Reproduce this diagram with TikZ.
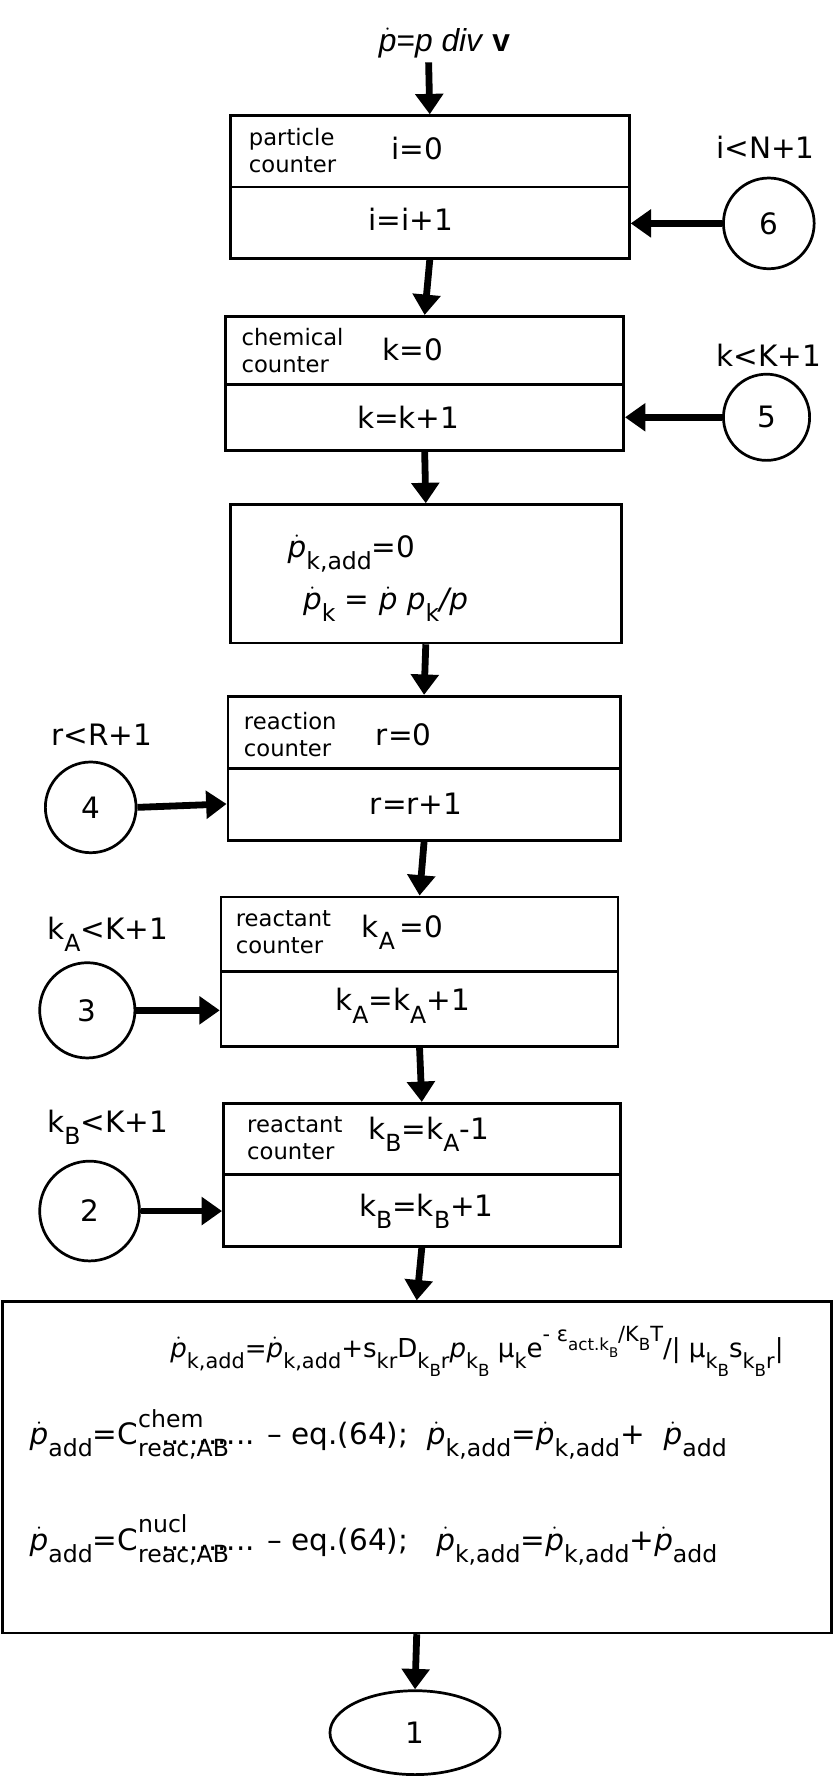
\documentclass[tikz,border=0pt]{standalone}
\usepackage{fontspec}
\usepackage{amsmath}
\setmainfont{DejaVu Sans}
\newfontfamily\arialf{Liberation Sans}
\usetikzlibrary{arrows.meta,shapes.geometric}
\newcommand{\pd}{$\dot{\text{\itshape p}}$}
\newcommand{\sbs}[1]{\raisebox{-0.75ex}{\scalebox{0.8}{#1}}}
\newcommand{\sps}[1]{\raisebox{1.1ex}{\scalebox{0.8}{#1}}}
\begin{document}
\begin{tikzpicture}[x=1pt,y=-1pt,
  boxn/.style={draw,line width=2.4pt,inner sep=0pt},
  conn/.style={line width=6pt,-{Triangle[length=18pt,width=24pt]}},
  circ/.style={draw,circle,line width=2.4pt,minimum size=80pt,inner sep=0pt,font=\fontsize{26}{28}\selectfont},
  lab/.style={font=\fontsize{26}{28}\selectfont,inner sep=0pt},
  slab/.style={font=\fontsize{20}{24}\selectfont,align=left,inner sep=0pt}]
\useasboundingbox (0,0) rectangle (735,1568);
% top label
\node[inner sep=0pt,font=\arialf\fontsize{28}{30}\selectfont] (top) at (392,38) {\pd=\textit{p div} \textbf{v}};
\coordinate (topc) at (378,55);
% box1
\node[boxn,minimum width=352pt,minimum height=126pt] (b1) at (379,165) {};
\draw[line width=2.4pt] (203,165) -- (555,165);
\node[slab] (l1) at (258,133) {particle\\counter};
\node[lab] (t1a) at (368,131) {i=0};
\node[lab] (t1b) at (362,193) {i=i+1};
\node[circ] (c6) at (678,197) {6};
\node[lab] (n6) at (675,130) {i<N+1};
% box2
\node[boxn,minimum width=351pt,minimum height=118pt] (b2) at (374.5,338) {};
\draw[line width=2.4pt] (199,339) -- (550,339);
\node[slab] (l2) at (258,309) {chemical\\counter};
\node[lab] (t2a) at (364,308) {k=0};
\node[lab] (t2b) at (360,368) {k=k+1};
\node[circ,minimum size=76pt] (c5) at (676,368) {5};
\node[lab] (n5) at (678,313) {k<K+1};
% box3
\node[boxn,minimum width=345pt,minimum height=122pt] (b3) at (375.5,506) {};
\node[lab] (t3a) at (310,488) {\pd\sbs{k,add}=0};
\node[lab] (t3b) at (340,533) {\pd\sbs{k} = \pd{} \textit{p}\sbs{k}\textit{/p}};
% box4
\node[boxn,minimum width=346pt,minimum height=127pt] (b4) at (374,677.5) {};
\draw[line width=2.4pt] (201,678) -- (547,678);
\node[slab] (l4) at (256,648) {reaction\\counter};
\node[lab] (t4a) at (356,648) {r=0};
\node[lab] (t4b) at (367,709) {r=r+1};
\node[circ] (c4) at (80,712) {4};
\node[lab] (n4) at (90,648) {r<R+1};
% box5
\node[boxn,minimum width=350pt,minimum height=132pt] (b5) at (370,857) {};
\draw[line width=2.4pt] (195,857) -- (545,857);
\node[slab] (l5) at (250,822) {reactant\\counter};
\node[lab] (t5a) at (355,822) {k\sbs{A}\,=0};
\node[lab] (t5b) at (355,887) {k\sbs{A}=k\sbs{A}+1};
\node[circ,minimum size=84pt] (c3) at (77,891) {3};
\node[lab] (n3) at (95,824) {k\sbs{A}<K+1};
% box6
\node[boxn,minimum width=350pt,minimum height=126pt] (b6) at (372,1036) {};
\draw[line width=2.4pt] (197,1036) -- (547,1036);
\node[slab] (l6) at (260,1004) {reactant\\counter};
\node[lab] (t6a) at (378,1000) {k\sbs{B}=k\sbs{A}-1};
\node[lab] (t6b) at (376,1068) {k\sbs{B}=k\sbs{B}+1};
\node[circ,minimum size=88pt] (c2) at (79,1068) {2};
\node[lab] (n2) at (95,994) {k\sbs{B}<K+1};
% box7
\node[boxn,minimum width=731pt,minimum height=292pt] (b7) at (367.5,1294) {};
\node[font=\fontsize{23}{25}\selectfont,inner sep=0pt,anchor=west] (e1) at (150,1192)
  {\pd\sbs{k,add}=\pd\sbs{k,add}+s\sbs{kr}D\sbs{k\sbs{B}r}\textit{p}\sbs{k\sbs{B}} μ\sbs{k}e\sps{- ε\sbs{act.k\sbs{B}}/K\sbs{B}T}/| μ\sbs{k\sbs{B}}s\sbs{k\sbs{B}r}|};
\node[font=\fontsize{26}{28}\selectfont,inner sep=0pt,anchor=west] (e2) at (26,1265)
  {\pd\sbs{add}=C\rlap{\sps{chem}}\sbs{reac,AB}\hspace{-2.3em}.......... -- eq.(64);\ \ \pd\sbs{k,add}=\pd\sbs{k,add}+ \ \pd\sbs{add}};
\node[font=\fontsize{26}{28}\selectfont,inner sep=0pt,anchor=west] (e3) at (26,1358)
  {\pd\sbs{add}=C\rlap{\sps{nucl}}\sbs{reac,AB}\hspace{-2.3em}.......... -- eq.(64);\ \ \ \pd\sbs{k,add}=\pd\sbs{k,add}+\pd\sbs{add}};
% ellipse
\node[draw,ellipse,line width=2.4pt,minimum width=150pt,minimum height=74pt,font=\fontsize{26}{28}\selectfont] (e) at (366,1528) {1};
% connectors
\draw[conn] (topc) -- (b1.north);
\draw[conn] (b1.south) -- (b2.north);
\draw[conn] (b2.south) -- (b3.north);
\draw[conn] (b3.south) -- (b4.north);
\draw[conn] (b4.south) -- (b5.north);
\draw[conn] (b5.south) -- (b6.north);
\draw[conn] (b6.south) -- (b7.north);
\draw[conn] (b7.south) -- (e.north);
\draw[conn] (c6.west) -- (b1.east |- c6.west);
\draw[conn] (c5.west) -- (b2.east |- c5.west);
\draw[conn] (c4.east) -- (b4.west |- 0,709);
\draw[conn] (c3.east) -- (b5.west |- c3.east);
\draw[conn] (c2.east) -- (b6.west |- c2.east);
\end{tikzpicture}
\end{document}
